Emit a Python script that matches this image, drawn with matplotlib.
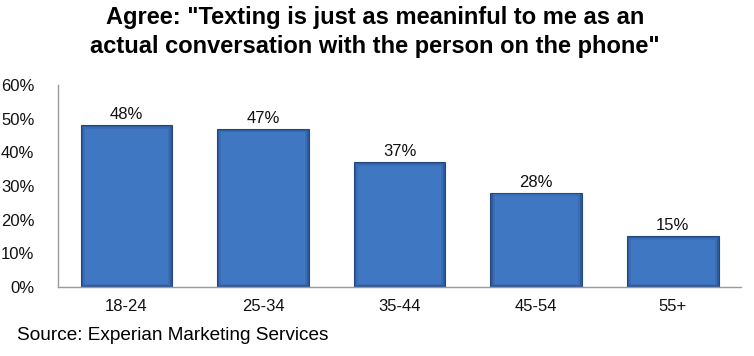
import matplotlib
matplotlib.use("Agg")
import matplotlib.pyplot as plt
from matplotlib.ticker import PercentFormatter

categories = ["18-24", "25-34", "35-44", "45-54", "55+"]
values = [48, 47, 37, 28, 15]
labels = ["48%", "47%", "37%", "28%", "15%"]
yticks = [0, 10, 20, 30, 40, 50, 60]

plt.rcParams['font.family'] = ['Liberation Sans', 'DejaVu Sans']

fig = plt.figure(figsize=(7.54, 3.56), dpi=100)
ax = fig.add_axes([0.077, 0.194, 0.906, 0.567])

x = list(range(len(categories)))
ax.bar(x, values, width=0.67, color="#2d5a9b", edgecolor="#24497f", linewidth=0.8, zorder=2)
ax.bar(x, [v - 1.0 for v in values], width=0.64, bottom=0.5, color="#3a6db5", linewidth=0, zorder=3)
ax.bar(x, [v - 2.0 for v in values], width=0.61, bottom=1.0, color="#3f77c3", linewidth=0, zorder=4)

for xi, v, lab in zip(x, values, labels):
    ax.text(xi, v + 0.9, lab, ha="center", va="bottom", fontsize=12, color="#111111")

ax.set_xlim(-0.5, len(categories) - 0.5)
ax.set_ylim(0, 60)
ax.set_yticks(yticks)
ax.yaxis.set_major_formatter(PercentFormatter(decimals=0))
ax.set_xticks(x)
ax.set_xticklabels(categories)
ax.tick_params(axis="both", length=0, labelsize=12, colors="#111111")
ax.tick_params(axis="y", pad=17)
ax.tick_params(axis="x", pad=9)
for s in ["top", "right"]:
    ax.spines[s].set_visible(False)
for s in ["left", "bottom"]:
    ax.spines[s].set_color("#9a9a9a")
    ax.spines[s].set_linewidth(1)

fig.text(0.497, 0.982, "Agree: \"Texting is just as meaninful to me as an\nactual conversation with the person on the phone\"",
         ha="center", va="top", fontsize=17, fontweight="bold", linespacing=1.3)
fig.text(0.022, 0.058, "Source: Experian Marketing Services", ha="left", va="center", fontsize=13.7)

fig.savefig("out.png", dpi=100)
